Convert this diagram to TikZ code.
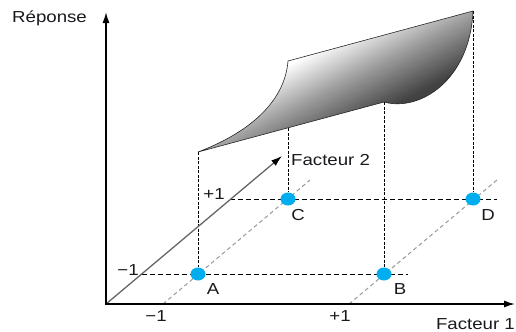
\documentclass[tikz,border=0pt]{standalone}
\usepackage{fontspec}
\setmainfont[FakeStretch=1.17]{Liberation Sans}
\usetikzlibrary{arrows.meta,shapes.geometric}
\pgfdeclarelayer{bg}
\pgfsetlayers{bg,main}
\definecolor{dotblue}{RGB}{0,174,239}
\definecolor{txt}{RGB}{25,25,30}
\pgfdeclareverticalshading{surfshade}{100bp}{color(0bp)=(black!80); color(37bp)=(black!74); color(49bp)=(black!38); color(60bp)=(white); color(100bp)=(white)}
\begin{document}
\begin{tikzpicture}[x=1bp,y=-1bp,
  lbl/.style={text=txt,font=\fontsize{16}{19}\selectfont,inner sep=0pt},
  dotnode/.style={ellipse,fill=dotblue,minimum width=15bp,minimum height=13bp,inner sep=0pt},
  axisline/.style={line width=1.5bp,{Latex[length=11bp,width=7bp]}-{Latex[length=11bp,width=7bp]}},
  f2line/.style={draw=black!60,line width=1.3bp,-{Latex[length=11bp,width=7bp,fill=black,color=black]}},
  gridline/.style={dash pattern=on 5bp off 3bp,line width=0.8bp},
  diagline/.style={draw=black!40,dash pattern=on 4bp off 3bp,line width=1bp},
  vline/.style={dash pattern=on 3bp off 1.5bp,line width=0.8bp},
  surf/.style={shading=surfshade,shading angle=27.7,draw=black!85,line width=0.6bp}]
\useasboundingbox (0,0) rectangle (516,331);
% key coordinates
\coordinate (O) at (106,304);
\coordinate (Ytip) at (106,12);
\coordinate (Xtip) at (515,304);
\coordinate (F2tip) at (282,156);
\coordinate (PA) at (198,152);
\coordinate (PB) at (384,102);
\coordinate (PD) at (473,11);
\coordinate (PC) at (288,61);
\coordinate (Cb) at (288,128);
\coordinate (m1) at (142,274);
\coordinate (h1e) at (408,274);
\coordinate (p1) at (230,199);
\coordinate (h2e) at (497,199);
\coordinate (d1s) at (163,304);
\coordinate (d1e) at (310,180);
\coordinate (d2s) at (349,304);
\coordinate (d2e) at (497,180);
% design points
\node[dotnode] (A) at (198,274) {};
\node[dotnode] (B) at (384,274) {};
\node[dotnode] (C) at (288,199) {};
\node[dotnode] (D) at (473,199) {};
% texts
\node[lbl,anchor=base west] (rep) at (12,22) {Réponse};
\node[lbl,anchor=base west] (f2) at (291,165) {Facteur 2};
\node[lbl,anchor=base east] (f1) at (515,329) {Facteur 1};
\node[lbl] (lm1) at (128,270) {−1};
\node[lbl] (lp1) at (214,194) {+1};
\node[lbl] (bm1) at (156,316) {−1};
\node[lbl] (bp1) at (340,316) {+1};
\node[lbl] (lA) at (213,289) {A};
\node[lbl] (lB) at (400,289) {B};
\node[lbl] (lC) at (298,215) {C};
\node[lbl] (lD) at (488,215) {D};
% response surface
\shadedraw[surf] (PA) -- (PB) .. controls (420,112) and (470,80) .. (PD) -- (PC) .. controls (284,110) and (235,138) .. cycle;
\begin{pgfonlayer}{bg}
\draw[diagline] (d1s) -- (d1e);
\draw[diagline] (d2s) -- (d2e);
\draw[gridline] (m1) -- (h1e);
\draw[gridline] (p1) -- (h2e);
\draw[vline] (PA) -- (A);
\draw[vline] (Cb) -- (C);
\draw[vline] (PB) -- (B);
\draw[vline] (PD) -- (D);
\draw[f2line] (O) -- (F2tip);
\draw[axisline] (Ytip) -- (O) -- (Xtip);
\end{pgfonlayer}
\end{tikzpicture}
\end{document}
